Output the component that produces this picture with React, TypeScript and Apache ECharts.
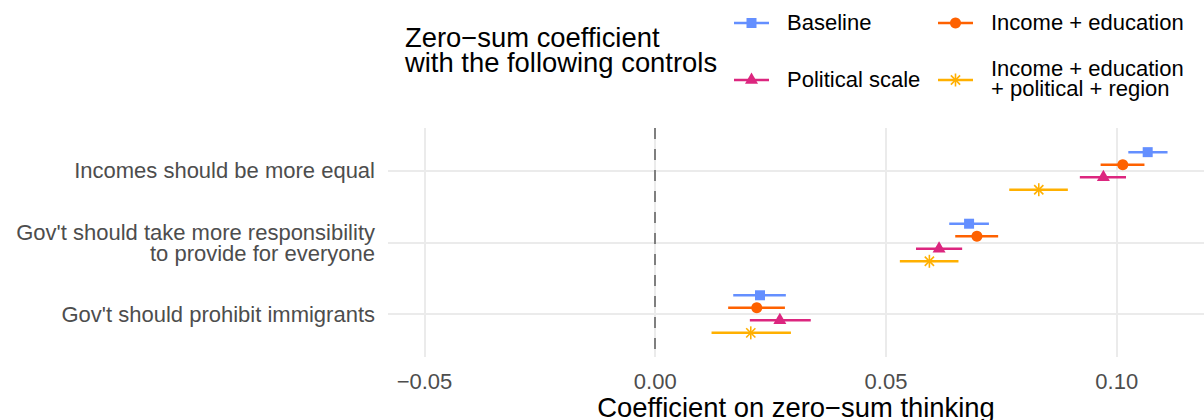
import React, { useEffect, useRef } from "react";
import * as echarts from "echarts";

// Survey questions, top to bottom
const QUESTIONS = [
  "Incomes should be more equal",
  "Gov't should take more responsibility\nto provide for everyone",
  "Gov't should prohibit immigrants",
];
const QUESTION_POS = [1, 2, 3];

// Models (sets of controls)
const MODELS = [
  "Baseline",
  "Income + education",
  "Political scale",
  "Income + education\n+ political + region",
];
const COLORS = ["#648FFF", "#FE6100", "#DC267F", "#FFB000"];
const MARKERS = ["square", "circle", "triangle", "asterisk"];

// Coefficient estimates and 95% interval bounds, one entry per question
const baselineEst = [0.1067, 0.068, 0.0227];
const baselineLo = [0.1025, 0.0637, 0.0169];
const baselineHi = [0.111, 0.0723, 0.0283];

const incomeEduEst = [0.1013, 0.0697, 0.022];
const incomeEduLo = [0.0965, 0.065, 0.0158];
const incomeEduHi = [0.106, 0.0743, 0.0281];

const politicalEst = [0.0971, 0.0615, 0.027];
const politicalLo = [0.092, 0.0565, 0.0205];
const politicalHi = [0.102, 0.0665, 0.0337];

const fullEst = [0.0831, 0.0594, 0.0207];
const fullLo = [0.0767, 0.053, 0.0122];
const fullHi = [0.0894, 0.0657, 0.0294];

const EST = [baselineEst, incomeEduEst, politicalEst, fullEst];
const LO = [baselineLo, incomeEduLo, politicalLo, fullLo];
const HI = [baselineHi, incomeEduHi, politicalHi, fullHi];

const X_TICKS = [-0.05, 0, 0.05, 0.1];

const FONT = "'Liberation Sans', Arial, Helvetica, sans-serif";
const DODGE_WIDTH = 0.7;

function marker(kind: string, cx: number, cy: number, color: string): any {
  switch (kind) {
    case "square":
      return { type: "rect", shape: { x: cx - 5, y: cy - 5, width: 10, height: 10 }, style: { fill: color } };
    case "circle":
      return { type: "circle", shape: { cx, cy, r: 5.5 }, style: { fill: color } };
    case "triangle": {
      const s = 13;
      const h = (s * Math.sqrt(3)) / 2;
      return {
        type: "polygon",
        shape: { points: [[cx, cy - (2 * h) / 3], [cx + s / 2, cy + h / 3], [cx - s / 2, cy + h / 3]] },
        style: { fill: color },
      };
    }
    default: {
      const r = 6.5;
      const d = r * Math.SQRT1_2;
      const seg = (x1: number, y1: number, x2: number, y2: number) => ({
        type: "line",
        shape: { x1, y1, x2, y2 },
        style: { stroke: color, lineWidth: 1.6 },
      });
      return {
        type: "group",
        children: [
          seg(cx, cy - r, cx, cy + r),
          seg(cx - r, cy, cx + r, cy),
          seg(cx - d, cy - d, cx + d, cy + d),
          seg(cx - d, cy + d, cx + d, cy - d),
        ],
      };
    }
  }
}

function buildOption(): any {
  const pointSeries = MODELS.map((name, m) => {
    const offset = (m - (MODELS.length - 1) / 2) * (DODGE_WIDTH / MODELS.length);
    return {
      name,
      type: "custom",
      z: 5,
      encode: { x: [0, 1, 2], y: 3 },
      data: QUESTION_POS.map((q, i) => [EST[m][i], LO[m][i], HI[m][i], q]),
      renderItem: (_params: any, api: any) => {
        const y = api.value(3) + offset;
        const c = api.coord([api.value(0), y]);
        const lo = api.coord([api.value(1), y]);
        const hi = api.coord([api.value(2), y]);
        return {
          type: "group",
          children: [
            {
              type: "line",
              shape: { x1: lo[0], y1: lo[1], x2: hi[0], y2: hi[1] },
              style: { stroke: COLORS[m], lineWidth: 2.5 },
            },
            marker(MARKERS[m], c[0], c[1], COLORS[m]),
          ],
        };
      },
    };
  });

  const gridSeries = {
    type: "line",
    data: [],
    z: 1,
    silent: true,
    markLine: {
      silent: true,
      symbol: ["none", "none"],
      label: { show: false },
      emphasis: { disabled: true },
      lineStyle: { color: "#EBEBEB", width: 2, type: "solid" },
      data: [
        ...X_TICKS.map((v) => ({ xAxis: v })),
        ...QUESTION_POS.map((v) => ({ yAxis: v })),
      ],
    },
  };

  const zeroSeries = {
    type: "line",
    data: [],
    z: 2,
    silent: true,
    markLine: {
      silent: true,
      symbol: ["none", "none"],
      label: { show: false },
      emphasis: { disabled: true },
      lineStyle: { color: "#7F7F7F", width: 2, type: [11, 10] },
      data: [{ xAxis: 0 }],
    },
  };

  // Legend: title on the left, keys in a 2 x 2 layout
  const keyCols = [734, 938];
  const keyRows = [23, 80];
  const legendEls: any[] = [
    {
      type: "text",
      left: 405,
      top: 24,
      style: {
        text: "Zero\u2212sum coefficient\nwith the following controls",
        font: `27.4px ${FONT}`,
        lineHeight: 24.7,
        fill: "#000",
      },
    },
  ];
  MODELS.forEach((name, m) => {
    const col = m % 2;
    const row = Math.floor(m / 2);
    const x0 = keyCols[col];
    const y0 = keyRows[row];
    legendEls.push({
      type: "group",
      silent: true,
      children: [
        { type: "line", shape: { x1: x0, y1: y0, x2: x0 + 35, y2: y0 }, style: { stroke: COLORS[m], lineWidth: 2.5 } },
        marker(MARKERS[m], x0 + 17.5, y0, COLORS[m]),
      ],
    });
    legendEls.push({
      type: "text",
      x: x0 + 53,
      y: m === 3 ? 78 : y0 - 1,
      style: {
        text: name,
        font: `22px ${FONT}`,
        lineHeight: 20,
        fill: "#000",
        verticalAlign: "middle",
        align: "left",
      },
    });
  });

  return {
    animation: false,
    backgroundColor: "#FFFFFF",
    grid: { left: 388, right: 0, top: 128, bottom: 63, containLabel: false, outerBoundsMode: "none" },
    xAxis: {
      type: "value",
      min: -0.0579,
      max: 0.1189,
      splitLine: { show: false },
      axisLine: { show: false },
      axisTick: { show: false },
      axisLabel: {
        customValues: X_TICKS,
        formatter: (v: number) => v.toFixed(2).replace("-", "\u2212"),
        color: "#4D4D4D",
        fontSize: 22,
        fontFamily: FONT,
        margin: 13,
      },
      name: "Coefficient on zero\u2212sum thinking",
      nameLocation: "middle",
      nameMoveOverlap: false,
      nameGap: 37,
      nameTextStyle: { color: "#000", fontSize: 27.4, fontFamily: FONT },
    },
    yAxis: {
      type: "value",
      min: 0.4,
      max: 3.6,
      inverse: true,
      splitLine: { show: false },
      axisLine: { show: false },
      axisTick: { show: false },
      axisLabel: {
        customValues: QUESTION_POS,
        formatter: (v: number) => QUESTIONS[Math.round(v) - 1] ?? "",
        color: "#4D4D4D",
        fontSize: 22,
        lineHeight: 21,
        fontFamily: FONT,
        align: "right",
        margin: 13,
      },
    },
    graphic: legendEls,
    series: [gridSeries, zeroSeries, ...pointSeries],
  };
}

export default function App() {
  const ref = useRef<HTMLDivElement>(null);
  useEffect(() => {
    if (!ref.current) return;
    const chart = echarts.init(ref.current, null, { renderer: "svg" });
    chart.setOption(buildOption());
    return () => chart.dispose();
  }, []);
  return (
    <div
      ref={ref}
      style={{ position: "fixed", left: 0, top: 0, width: 1204, height: 420, background: "#fff" }}
    />
  );
}
